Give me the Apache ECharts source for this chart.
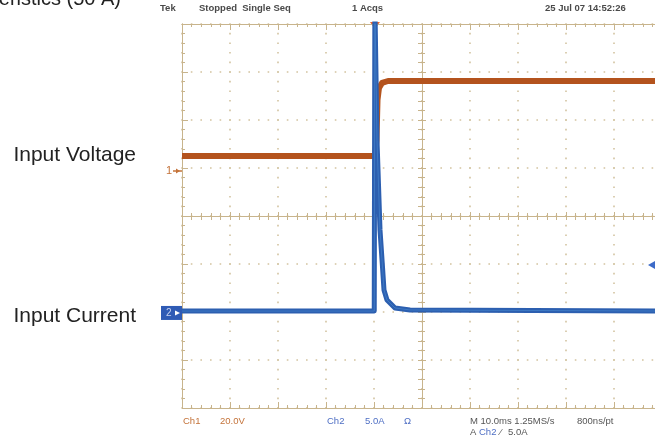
<!DOCTYPE html>
<html><head><meta charset="utf-8">
<script src="https://cdn.jsdelivr.net/npm/echarts@6/dist/echarts.min.js"></script>
<style>html,body{margin:0;padding:0;background:#fff}#c{width:655px;height:441px}</style>
</head><body><div id="c"></div>
<script>
// Time axis in ms relative to screen centre (10 ms/div, 10 divisions)
const timeCh1 = [-50, -9.8, -9.48, -9.27, -8.96, -8.33, -7.08, 50];
const ch1Volts = [6.25, 6.25, 12.9, 29.6, 34.6, 36.7, 37.5, 37.5];
const timeCh2 = [-50, -9.95, -9.82, -9.75, -9.375, -8.75, -8.19, -7.92, -7.29, -5.63, -2.5, 50];
const ch2Amps = [0.2, 0.2, 32, 30.1, 18.0, 8.65, 4.48, 2.40, 1.35, 0.52, 0.31, 0.2];
const triggerTimeMs = -9.8;
const triggerLevelAmps = 5.0;
const ch1VoltsRange = [-98.75, 61.25];   // 20 V/div, ground 0.94 div above centre
const ch2AmpsRange = [-9.9, 30.1];       // 5 A/div, ground 1.98 div below centre

const tan = '#c8b48c';
const dot = '#d3c3a0';
const orange = '#b4531d';
const blue = '#2c5fb0';

const chart = echarts.init(document.getElementById('c'), null, {renderer: 'canvas'});

function xAx(extra) {
  return Object.assign({
    type: 'value', min: -50, max: 50, interval: 10,
    axisLabel: {show: false},
    axisLine: {show: true, onZero: false, lineStyle: {color: tan, width: 1}},
    axisTick: {show: true, inside: true, length: 6, lineStyle: {color: tan}},
    minorTick: {show: true, splitNumber: 5, length: 3, lineStyle: {color: tan}},
    splitLine: {show: false}
  }, extra);
}
function yAx(extra) {
  return Object.assign({
    type: 'value', min: -4, max: 4, interval: 1,
    axisLabel: {show: false},
    axisLine: {show: true, onZero: false, lineStyle: {color: tan, width: 1}},
    axisTick: {show: true, inside: true, length: 6, lineStyle: {color: tan}},
    minorTick: {show: true, splitNumber: 5, length: 3, lineStyle: {color: tan}},
    splitLine: {show: false}
  }, extra);
}
const dotted = {show: true, lineStyle: {color: dot, width: 1.6, type: [1.6, 8.0], dashOffset: 0.8}};

const option = {
  animation: false,
  backgroundColor: '#ffffff',
  grid: {left: 182, top: 24, width: 480, height: 384, outerBoundsMode: 'none', containLabel: false},
  xAxis: [
    xAx({position: 'bottom', splitLine: dotted}),
    xAx({position: 'top'}),
    xAx({position: 'bottom', axisLine: {show: true, onZero: true, onZeroAxisIndex: 0, lineStyle: {color: tan}}, axisTick: {show: true, inside: true, length: 4, lineStyle: {color: tan}}}),
    xAx({position: 'bottom', axisLine: {show: true, onZero: true, onZeroAxisIndex: 0, lineStyle: {color: tan}}, axisTick: {show: true, inside: false, length: 4, lineStyle: {color: tan}}, minorTick: {show: true, splitNumber: 5, length: 4, lineStyle: {color: tan}}})
  ],
  yAxis: [
    yAx({position: 'left', splitLine: dotted}),
    yAx({position: 'right'}),
    yAx({position: 'left', axisLine: {show: true, onZero: true, onZeroAxisIndex: 0, lineStyle: {color: tan}}, axisTick: {show: true, inside: true, length: 4, lineStyle: {color: tan}}}),
    yAx({position: 'left', axisLine: {show: true, onZero: true, onZeroAxisIndex: 0, lineStyle: {color: tan}}, axisTick: {show: true, inside: false, length: 4, lineStyle: {color: tan}}, minorTick: {show: true, splitNumber: 5, length: 4, lineStyle: {color: tan}}}),
    {type: 'value', show: false, min: ch1VoltsRange[0], max: ch1VoltsRange[1], splitLine: {show: false}},
    {type: 'value', show: false, min: ch2AmpsRange[0], max: ch2AmpsRange[1], splitLine: {show: false}}
  ],
  series: [
    {type: 'line', name: 'Ch1', xAxisIndex: 0, yAxisIndex: 4, showSymbol: false, clip: true,
     data: timeCh1.map((t, i) => [t, ch1Volts[i]]),
     lineStyle: {color: orange, width: 6, join: 'round'}},
    {type: 'line', name: 'Ch2', xAxisIndex: 0, yAxisIndex: 5, showSymbol: false, clip: true,
     data: timeCh2.map((t, i) => [t, ch2Amps[i]]),
     lineStyle: {color: blue, width: 5, join: 'round'}},
    {type: 'line', name: 'Ch2hi', xAxisIndex: 0, yAxisIndex: 5, showSymbol: false, clip: true,
     data: timeCh2.map((t, i) => [t, ch2Amps[i]]),
     lineStyle: {color: '#4a8ad0', width: 1, opacity: 0.6}}
  ]
};
chart.setOption(option);

const gx0 = chart.convertToPixel({xAxisIndex: 0}, -50);
const gyTop = chart.convertToPixel({yAxisIndex: 0}, 4);
const trigX = chart.convertToPixel({xAxisIndex: 0}, triggerTimeMs);
const ch1Gnd = chart.convertToPixel({yAxisIndex: 4}, 0);
const ch2Gnd = chart.convertToPixel({yAxisIndex: 5}, 0);
const trigY = chart.convertToPixel({yAxisIndex: 5}, triggerLevelAmps);

const hdr = {fontFamily: 'Liberation Sans, Arial, sans-serif', fontSize: 9.5, fontWeight: 'bold', fill: '#4a4a4a'};
const ftr = {fontFamily: 'Liberation Sans, Arial, sans-serif', fontSize: 9.5, fill: '#555'};
const lbl = {fontFamily: 'Liberation Sans, Arial, Helvetica, sans-serif', fontSize: 21, fill: '#222'};
function txt(x, y, s, style, extra) {
  return {type: 'text', x: x, y: y, style: Object.assign({text: s, verticalAlign: 'middle'}, style, extra || {})};
}

chart.setOption({
  graphic: [
    txt(121, 9, 'Input Characteristics (50 A)', lbl, {align: 'right', verticalAlign: 'bottom', fontSize: 20}),
    txt(136, 155, 'Input Voltage', lbl, {align: 'right'}),
    txt(136, 316, 'Input Current', lbl, {align: 'right'}),
    txt(160, 8, 'Tek', hdr),
    txt(199, 8, 'Stopped  Single Seq', hdr),
    txt(352, 8, '1 Acqs', hdr),
    txt(545, 8, '25 Jul 07 14:52:26', hdr),
    txt(183, 421, 'Ch1', ftr, {fill: '#c4733a'}),
    txt(220, 421, '20.0V', ftr, {fill: '#c4733a'}),
    txt(327, 421, 'Ch2', ftr, {fill: '#4f6fc4'}),
    txt(365, 421, '5.0A', ftr, {fill: '#4f6fc4'}),
    txt(404, 421, 'Ω', ftr, {fill: '#4f6fc4'}),
    txt(470, 421, 'M 10.0ms 1.25MS/s', ftr),
    txt(577, 421, '800ns/pt', ftr),
    txt(470, 432, 'A', ftr),
    txt(479, 432, 'Ch2', ftr, {fill: '#4f6fc4'}),
    txt(500, 432, '⁄', ftr),
    txt(508, 432, '5.0A', ftr),
    // trigger position marker
    {type: 'polygon', shape: {points: [[trigX - 5, gyTop - 2], [trigX + 5, gyTop - 2], [trigX, gyTop + 5]]}, style: {fill: '#f0642a'}},
    // Ch1 ground marker
    txt(166, ch1Gnd, '1', {fontFamily: 'Liberation Sans, Arial, sans-serif', fontSize: 11, fill: '#c4733a'}),
    {type: 'line', shape: {x1: 173, y1: ch1Gnd, x2: gx0, y2: ch1Gnd}, style: {stroke: '#c4733a', lineWidth: 1.5}},
    {type: 'polygon', shape: {points: [[176, ch1Gnd - 2.5], [180, ch1Gnd], [176, ch1Gnd + 2.5]]}, style: {fill: '#c4733a'}},
    // Ch2 ground marker
    {type: 'rect', shape: {x: 161, y: ch2Gnd - 7, width: gx0 - 161, height: 14}, style: {fill: '#2f5bb5'}},
    txt(166, ch2Gnd, '2', {fontFamily: 'Liberation Sans, Arial, sans-serif', fontSize: 10, fill: '#c9d4f0'}),
    {type: 'polygon', shape: {points: [[175, ch2Gnd - 2.5], [180, ch2Gnd], [175, ch2Gnd + 2.5]]}, style: {fill: '#ffffff'}},
    // trigger level marker
    {type: 'polygon', shape: {points: [[648, trigY], [655, trigY - 4], [655, trigY + 4]]}, style: {fill: '#3d6bc8'}}
  ]
});
</script></body></html>
